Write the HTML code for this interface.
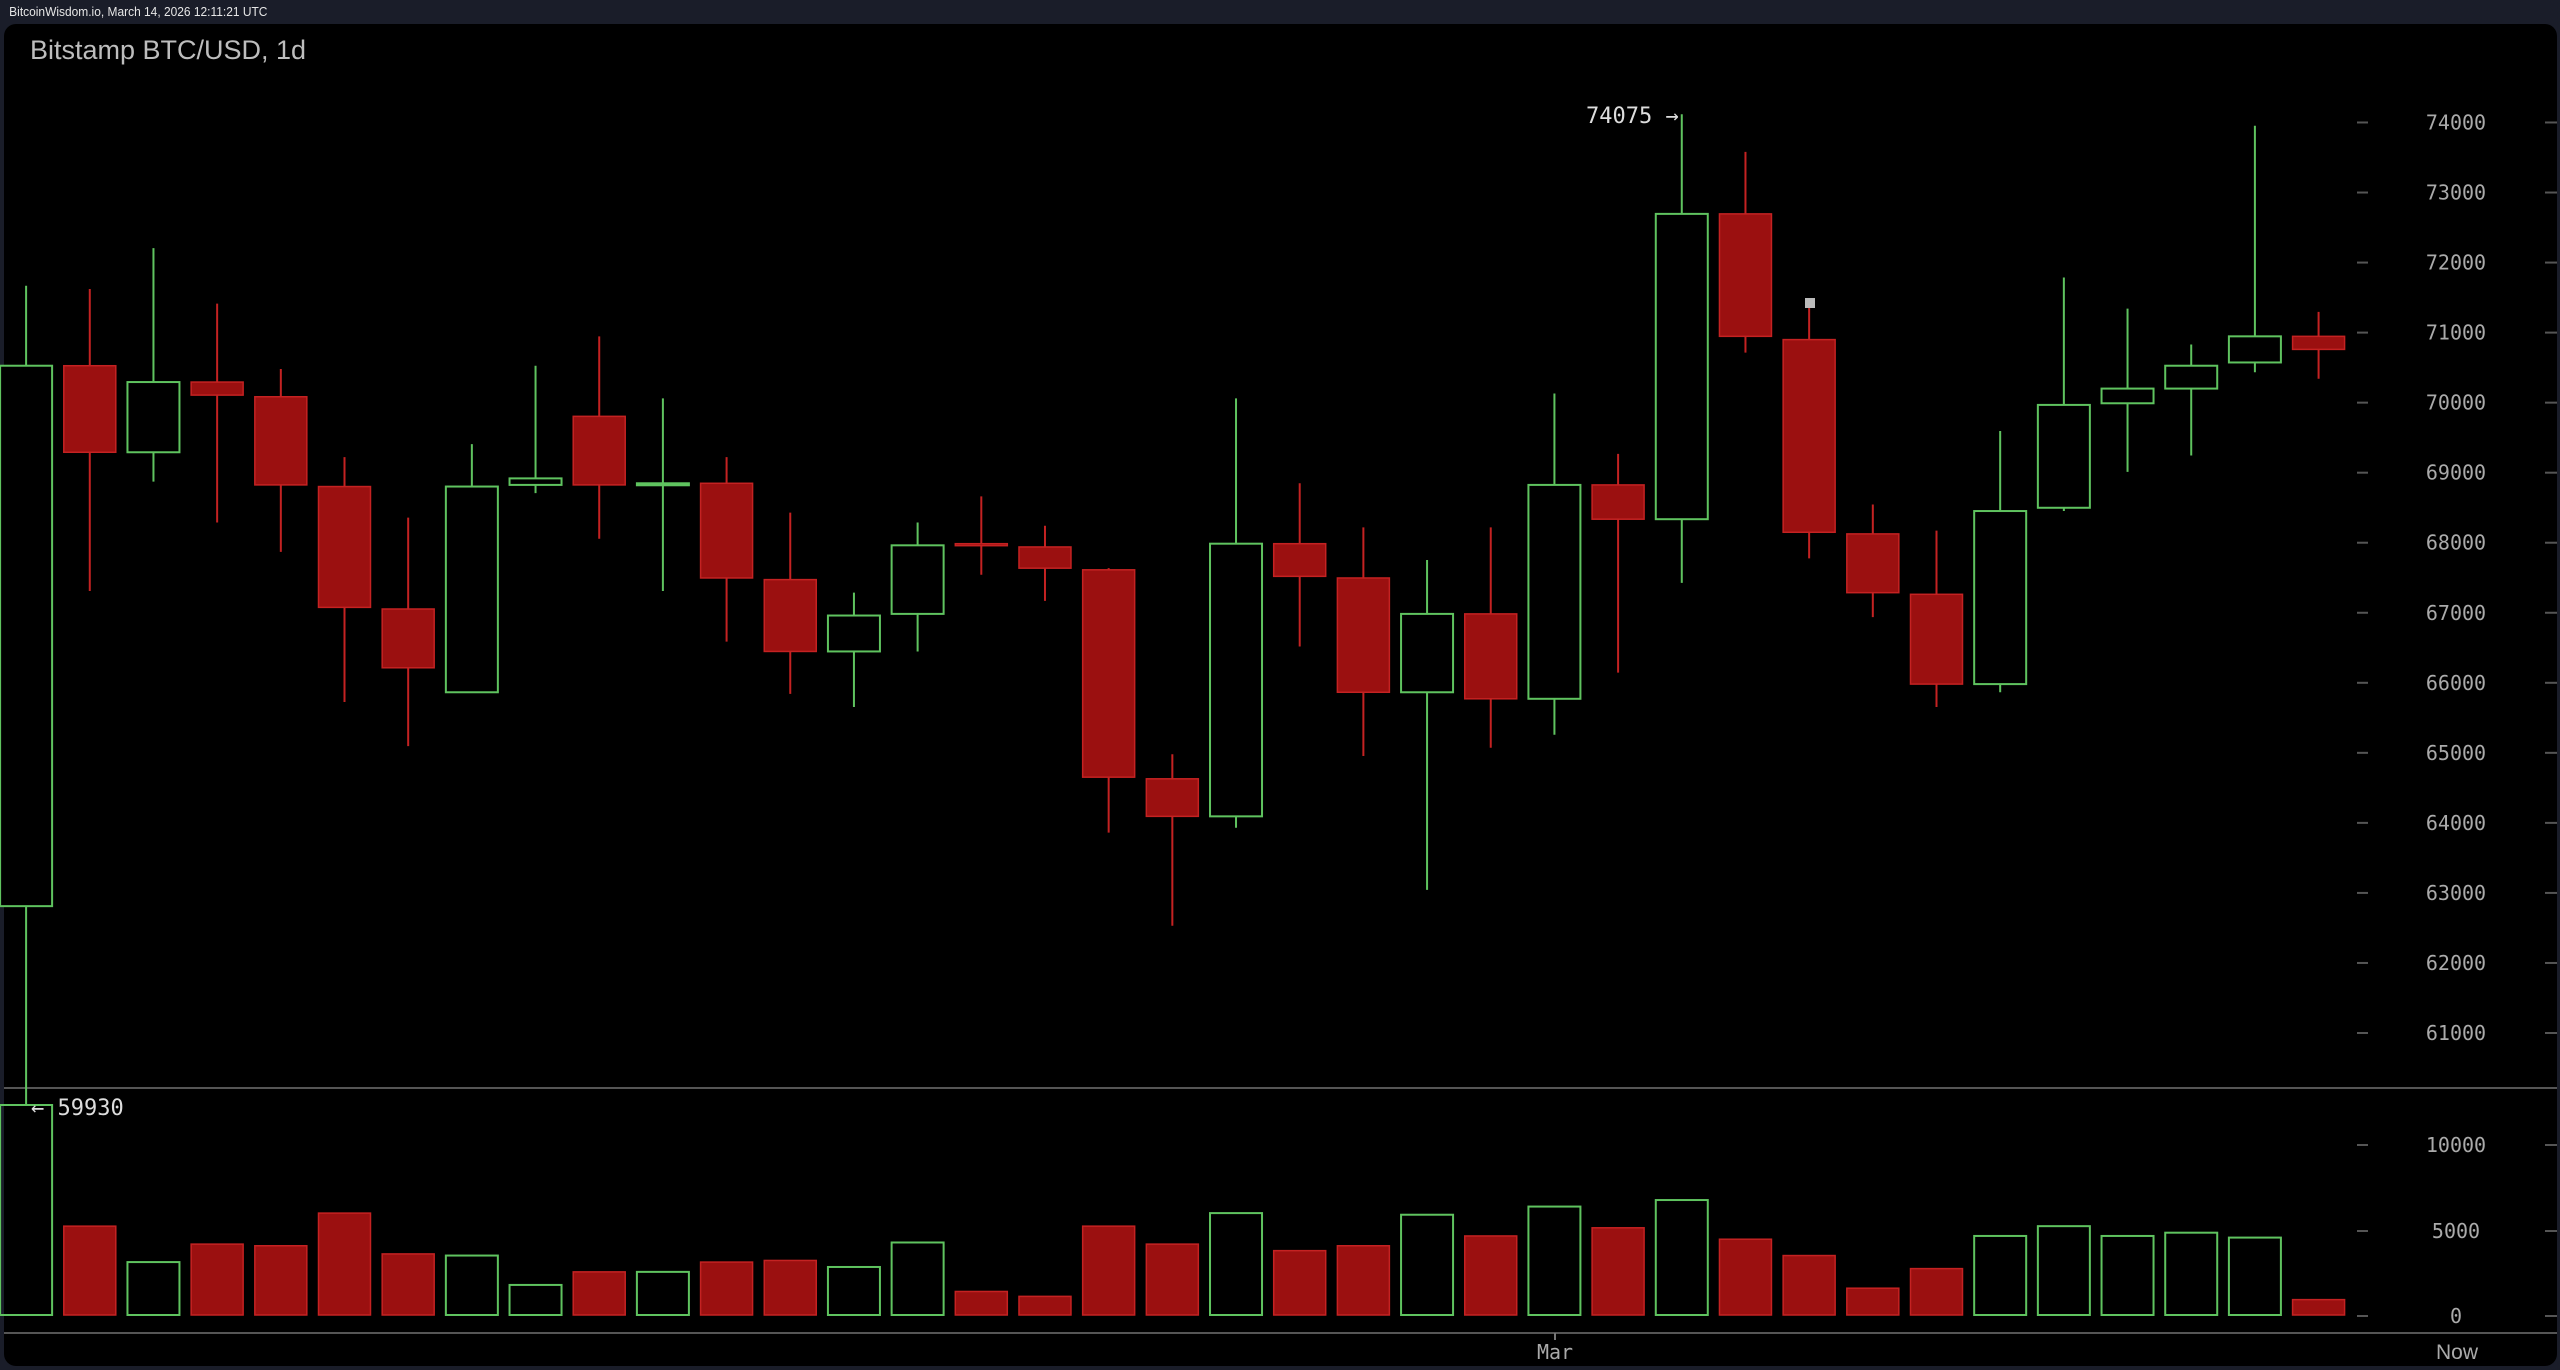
<!DOCTYPE html>
<html><head><meta charset="utf-8"><style>
html,body{margin:0;padding:0;background:#1a1d29;width:2560px;height:1370px;overflow:hidden}
svg{display:block}
</style></head><body>
<svg id="s" width="2560" height="1370" xmlns="http://www.w3.org/2000/svg">
<rect x="0" y="0" width="2560" height="1370" fill="#1a1d29"/>
<rect x="4" y="24" width="2553" height="1342" rx="12" fill="#000"/>
<text x="10" y="16" font-family="Liberation Sans, sans-serif" font-size="13" fill="#e6e6e6" transform="scale(0.92,1)">BitcoinWisdom.io, March 14, 2026 12:11:21 UTC</text>
<text x="30" y="59" font-family="Liberation Sans, sans-serif" font-size="27" fill="#bdbdbd">Bitstamp BTC/USD, 1d</text>
<line x1="4" y1="1088" x2="2557" y2="1088" stroke="#555" stroke-width="2"/>
<line x1="4" y1="1333" x2="2557" y2="1333" stroke="#555" stroke-width="2"/>
<g id="g"></g>
</svg>
<script>
var S=1.6327,G='#5fc35f',R='#c42222',RF='#9b1010';
var c=[[175,224,555,678,'g'],[177,224,277,362,'r'],[152,234,277,295,'g'],[186,234,242,320,'r'],[226,243,297,338,'r'],[280,298,372,430,'r'],[317,373,409,457,'r'],[272,298,424,424,'g'],[224,293,297,302,'g'],[206,255,297,330,'r'],[244,296,297,362,'g'],[280,296,354,393,'r'],[314,355,399,425,'r'],[363,377,399,433,'g'],[320,334,376,399,'g'],[304,333,334,352,'r'],[322,335,348,368,'r'],[348,349,476,510,'r'],[462,477,500,567,'r'],[244,333,500,507,'g'],[296,333,353,396,'r'],[323,354,424,463,'r'],[343,376,424,545,'g'],[323,376,428,458,'r'],[241,297,428,450,'g'],[278,297,318,412,'r'],[70,131,318,357,'g'],[93,131,206,216,'r'],[183,208,326,342,'r'],[309,327,363,378,'r'],[325,364,419,433,'r'],[264,313,419,424,'g'],[170,248,311,313,'g'],[189,238,247,289,'g'],[211,224,238,279,'g'],[77,206,222,228,'g'],[191,206,214,232,'r']];
var v=[678,751,773,762,763,743,768,769,787,779,779,773,772,776,761,791,794,751,762,743,766,763,744,757,739,752,735,759,769,789,777,757,751,757,755,758,796];
var h='';
for(var i=0;i<c.length;i++){var x=26.1+63.68*i,d=c[i],col=d[4]=='g'?G:R;
var wt=d[0]*S,bt=d[1]*S,bb=d[2]*S,wb=d[3]*S;if(i==0)wb=1106;
h+='<line x1="'+x+'" y1="'+wt+'" x2="'+x+'" y2="'+wb+'" stroke="'+col+'" stroke-width="2"/>';
var bh=Math.max(bb-bt,2);
if(d[4]=='g')h+='<rect x="'+(x-26)+'" y="'+bt+'" width="52" height="'+bh+'" fill="#000" stroke="'+G+'" stroke-width="2"/>';
else h+='<rect x="'+(x-26)+'" y="'+bt+'" width="52" height="'+bh+'" fill="'+RF+'" stroke="'+R+'" stroke-width="1.5"/>';
var vt=v[i]*S;if(i==0)vt=1105;
if(d[4]=='g')h+='<rect x="'+(x-26)+'" y="'+vt+'" width="52" height="'+(1315-vt)+'" fill="none" stroke="'+G+'" stroke-width="2"/>';
else h+='<rect x="'+(x-26)+'" y="'+vt+'" width="52" height="'+(1315-vt)+'" fill="'+RF+'" stroke="'+R+'" stroke-width="1.5"/>';
}
var F='font-family="DejaVu Sans Mono, Liberation Mono, monospace" fill="#aaa" font-size="20" text-anchor="middle"';
for(var p=61000;p<=74000;p+=1000){var y=1033-(p-61000)*0.07004;
h+='<line x1="2357" y1="'+y+'" x2="2368" y2="'+y+'" stroke="#555" stroke-width="2"/><line x1="2545" y1="'+y+'" x2="2557" y2="'+y+'" stroke="#555" stroke-width="2"/>';
h+='<text x="2456" y="'+(y+7)+'" '+F+'>'+p+'</text>';}
[[10000,1145],[5000,1231],[0,1316]].forEach(function(a){var y=a[1];
h+='<line x1="2357" y1="'+y+'" x2="2368" y2="'+y+'" stroke="#555" stroke-width="2"/><line x1="2545" y1="'+y+'" x2="2557" y2="'+y+'" stroke="#555" stroke-width="2"/>';
h+='<text x="2456" y="'+(y+7)+'" '+F+'>'+a[0]+'</text>';});
h+='<line x1="1555" y1="1333" x2="1555" y2="1340" stroke="#777" stroke-width="2"/>';
h+='<text x="1555" y="1359" '+F+'>Mar</text>';
h+='<text x="2457" y="1359" font-family="Liberation Sans, sans-serif" fill="#aaa" font-size="21" text-anchor="middle">Now</text>';
h+='<text x="1586" y="123" font-family="DejaVu Sans Mono, monospace" fill="#ddd" font-size="22">74075 →</text>';
h+='<text x="31" y="1115" font-family="DejaVu Sans Mono, monospace" fill="#ddd" font-size="22">← 59930</text>';
h+='<rect x="1805" y="298" width="10" height="10" fill="#bbb"/>';
document.getElementById('g').innerHTML=h;
</script>
</body></html>
